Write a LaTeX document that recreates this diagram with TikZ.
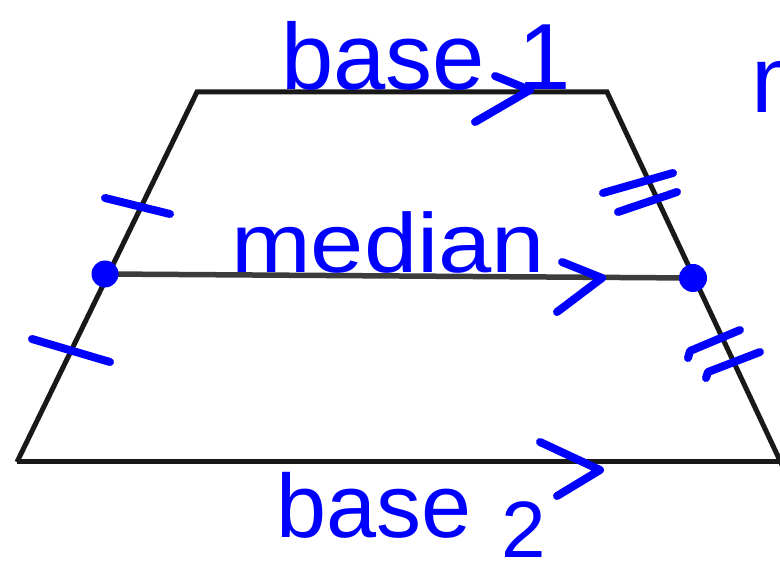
\documentclass[tikz,border=0pt]{standalone}
\usepackage{fontspec}
\setmainfont{Liberation Sans}
\definecolor{ink}{RGB}{0,0,255}
\definecolor{edge}{RGB}{25,25,25}
\begin{document}
\begin{tikzpicture}[x=1pt,y=-1pt,
  figline/.style={draw=edge,line width=5pt,line join=miter},
  medline/.style={draw=edge!85!white,line width=5.5pt},
  pen/.style={draw=ink,line width=8pt,line cap=round,line join=round},
  handtext/.style={text=ink,inner sep=0pt,anchor=base west}]
\useasboundingbox (0,0) rectangle (780,569);
\clip (0,0) rectangle (780,569);
\fill[white] (0,0) rectangle (780,569);
% vertices
\coordinate (A) at (197,92);
\coordinate (B) at (607,92);
\coordinate (C) at (790,482);
\coordinate (D) at (17,462);
\coordinate (Cb) at (780,462);
\coordinate (M1) at (105,274);
\coordinate (M2) at (693,278);
% trapezoid
\draw[figline] (D) -- (A) -- (B) -- (C);
\draw[figline] (D) -- (Cb) -- ++(10,0);
% median
\draw[medline] (M1) -- (M2);
\fill[ink] (M1) circle[radius=13.5pt];
\fill[ink] (M2) circle[radius=14pt];
% congruence ticks
\coordinate (l1a) at (105,198); \coordinate (l1b) at (170,214);
\coordinate (l2a) at (32,339);  \coordinate (l2b) at (110,362);
\draw[pen] (l1a) -- (l1b);
\draw[pen] (l2a) -- (l2b);
\coordinate (r1a) at (603,193); \coordinate (r1b) at (673,173);
\coordinate (r1c) at (618,212); \coordinate (r1d) at (677,192);
\draw[pen] (r1a) -- (r1b);
\draw[pen] (r1c) -- (r1d);
\coordinate (r2h) at (688,358); \coordinate (r2a) at (690,351); \coordinate (r2b) at (740,330);
\coordinate (r2i) at (706,378); \coordinate (r2c) at (708,372); \coordinate (r2d) at (760,352);
\draw[pen] (r2h) -- (r2a) -- (r2b);
\draw[pen] (r2i) -- (r2c) -- (r2d);
% parallel chevrons
\coordinate (t1) at (495,76); \coordinate (t2) at (530,90); \coordinate (t3) at (475,122);
\draw[pen] (t1) -- (t2) -- (t3);
\coordinate (m1) at (562,262); \coordinate (m2) at (602,278); \coordinate (m3) at (557,312);
\draw[pen] (m1) -- (m2) -- (m3);
\coordinate (b1) at (540,442); \coordinate (b2) at (600,470); \coordinate (b3) at (557,496);
\draw[pen] (b1) -- (b2) -- (b3);
% labels
\node[handtext] (base1) at (281,90) {\fontsize{94}{100}\selectfont base\hspace{34pt}1};
\node[handtext] (median) at (231,273) {\scalebox{1.14}[1]{\fontsize{84}{90}\selectfont median}};
\node[handtext] (base2) at (276,537) {\fontsize{90}{100}\selectfont base\hspace{30pt}\raisebox{-20pt}{\fontsize{80}{90}\selectfont 2}};
\node[handtext] (mcut) at (751,113) {\fontsize{95}{100}\selectfont m};
\end{tikzpicture}
\end{document}
